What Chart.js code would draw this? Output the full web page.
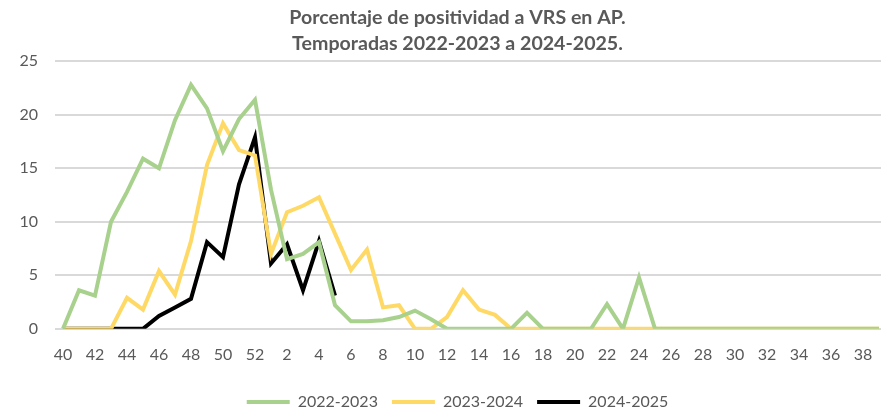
<!DOCTYPE html>
<html>
<head>
<meta charset="utf-8">
<script src="https://cdn.jsdelivr.net/npm/chart.js@4/dist/chart.umd.min.js"></script>
<style>
  html, body { margin: 0; padding: 0; background: #fff; overflow: hidden; }
  #wrap { width: 921px; height: 412px; }
</style>
</head>
<body>
<div id="wrap"><canvas id="myChart"></canvas></div>
<script>
// semanas epidemiologicas 40..52 y 1..39
const weeks = [40, 41, 42, 43, 44, 45, 46, 47, 48, 49, 50, 51, 52,
    1, 2, 3, 4, 5, 6, 7, 8, 9, 10, 11, 12, 13, 14, 15, 16, 17, 18, 19, 20,
    21, 22, 23, 24, 25, 26, 27, 28, 29, 30, 31, 32, 33, 34, 35, 36, 37, 38, 39];

const s2022 = [0, 3.6, 3.1, 10.0, 12.8, 15.9, 15.0, 19.5, 22.8, 20.6, 16.6, 19.6, 21.4,
    13.0, 6.5, 7.0, 8.1, 2.2, 0.7, 0.7, 0.8, 1.1, 1.7, 0.9, 0, 0, 0, 0, 0, 1.5, 0, 0, 0,
    0, 2.3, 0, 4.8, 0, 0, 0, 0, 0, 0, 0, 0, 0, 0, 0, 0, 0, 0, 0];

const s2023 = [0, 0, 0, 0, 2.9, 1.8, 5.4, 3.2, 8.2, 15.3, 19.2, 16.7, 16.2,
    7.0, 10.9, 11.5, 12.3, 8.9, 5.5, 7.4, 2.0, 2.2, 0, 0, 1.1, 3.6, 1.8, 1.3, 0, 0, 0, 0, 0,
    0, 0, 0, 0, 0, 0, 0, 0, 0, 0, 0, 0, 0, 0, 0, 0, 0, 0, 0];

const s2024 = [0, 0, 0, 0, 0, 0, 1.2, 2.0, 2.8, 8.1, 6.7, 13.5, 17.9,
    6.1, 7.9, 3.6, 8.2, 3.1];

const yTicks = [0, 5, 10, 15, 20, 25];

const FONT = "Lato, 'Liberation Sans', sans-serif";
const GREY = "#595959";

function series(label, data, color) {
    return {
        label: label,
        data: data,
        borderColor: color,
        backgroundColor: color,
        borderWidth: 4,
        pointRadius: 0,
        tension: 0,
        fill: false
    };
}

// title and legend sit a bit right of centre in the original
const shiftBoxes = {
    id: "shiftBoxes",
    afterLayout(chart) {
        [chart.legend, chart.titleBlock].forEach(b => {
            if (b) { b.left += 14; b.right += 14; }
        });
    }
};

new Chart("myChart", {
    type: "line",
    data: {
        labels: weeks,
        datasets: [
            series("2022-2023", s2022, "#A9D18E"),
            series("2023-2024", s2023, "#FFD966"),
            series("2024-2025", s2024, "#000000")
        ]
    },
    plugins: [shiftBoxes],
    options: {
        responsive: true,
        maintainAspectRatio: false,
        animation: false,
        layout: { padding: { left: 0, right: 34, top: 4, bottom: -8 } },
        plugins: {
            title: {
                display: true,
                text: ["Porcentaje de positividad a VRS en AP.", "Temporadas 2022-2023 a 2024-2025."],
                color: GREY,
                font: { family: FONT, size: 19.6, weight: "bold", lineHeight: 1.36 },
                padding: { top: 0, bottom: 4 }
            },
            legend: {
                position: "bottom",
                labels: {
                    usePointStyle: true,
                    pointStyle: "line",
                    pointStyleWidth: 43,
                    color: GREY,
                    font: { family: FONT, size: 16 },
                    padding: 14
                }
            },
            tooltip: { enabled: false }
        },
        scales: {
            x: {
                offset: true,
                grid: { display: false, drawTicks: false },
                border: { display: true, color: "#d9d9d9" },
                ticks: {
                    autoSkip: false,
                    maxRotation: 0,
                    color: GREY,
                    padding: 16,
                    font: { family: FONT, size: 16 },
                    callback: function (v, i) { return i % 2 === 0 ? weeks[i] : ""; }
                }
            },
            y: {
                min: 0,
                max: 25,
                afterBuildTicks: function (scale) {
                    scale.ticks = yTicks.map(v => ({ value: v }));
                },
                afterFit: function (scale) { scale.width = 55; },
                grid: { color: "#d9d9d9", lineWidth: 2, drawTicks: false },
                border: { display: false },
                ticks: {
                    color: GREY,
                    padding: 17,
                    font: { family: FONT, size: 16 }
                }
            }
        }
    }
});
</script>
</body>
</html>
